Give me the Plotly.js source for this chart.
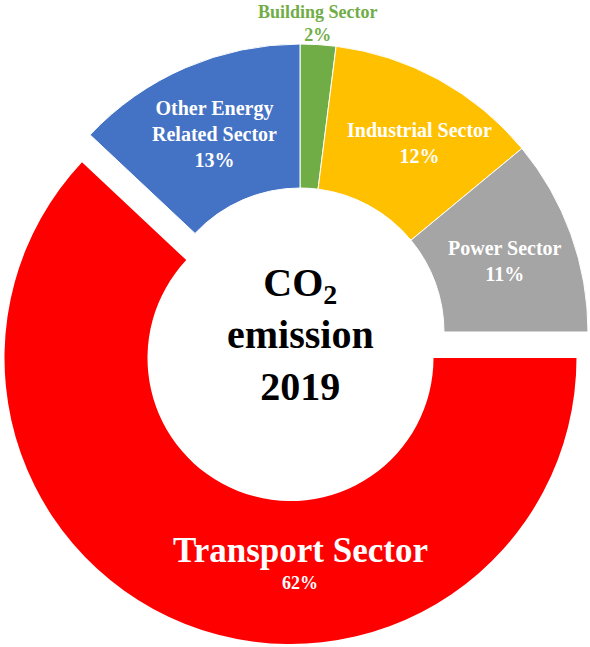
<!DOCTYPE html>
<html>
<head>
<meta charset="utf-8">
<script src="https://cdn.plot.ly/plotly-3.0.1.min.js"></script>
<style>html,body{margin:0;padding:0;background:#fff}</style>
</head>
<body>
<div id="chart" style="width:590px;height:647px"></div>
<script>
var sectors = ['Building Sector', 'Industrial Sector', 'Power Sector', 'Transport Sector', 'Other Energy Related Sector'];
var shares = [2, 12, 11, 62, 13];
var sectorColors = ['#70AD47', '#FFC000', '#A5A5A5', '#FF0000', '#4472C4'];
var sectorText = ['Building Sector', 'Industrial Sector', 'Power Sector', 'Transport Sector', 'Other Energy<br>Related Sector'];
var centerText = ['CO<sub>2</sub>', 'emission', '2019'];

var W = 590, H = 647;
var pulled = 3;  // transport slice sits apart from the rest
var clear = 'rgba(0,0,0,0)';
var serif = 'Liberation Serif, Times New Roman, serif';

function px(x) { return x / W; }
function py(y) { return 1 - y / H; }

var traces = [
  {
    type: 'pie',
    labels: sectors,
    values: shares,
    sort: false,
    direction: 'clockwise',
    rotation: 0,
    hole: 0.5,
    textinfo: 'none',
    showlegend: false,
    hovertemplate: '%{label}: %{percent}<extra></extra>',
    domain: { x: [px(12), px(588)], y: [py(620), py(44)] },
    marker: {
      colors: sectorColors.map(function (c, i) { return i === pulled ? clear : c; }),
      line: { color: '#ffffff', width: shares.map(function (v, i) { return i === pulled ? 0 : 1; }) }
    }
  },
  {
    type: 'pie',
    labels: sectors,
    values: shares,
    sort: false,
    direction: 'clockwise',
    rotation: 0,
    hole: 0.5,
    textinfo: 'none',
    showlegend: false,
    hovertemplate: '%{label}: %{percent}<extra></extra>',
    domain: { x: [px(4.5), px(576.5)], y: [py(644), py(72)] },
    marker: {
      colors: sectorColors.map(function (c, i) { return i === pulled ? c : clear; }),
      line: { width: 0 }
    }
  }
];

// where each slice label sits (px)
var labelPos = [[318, 0], [419, 143], [505, 261], [301, 550], [214, 134]];

var annotations = [];
for (var i = 0; i < sectors.length; i++) {
  if (i === pulled) continue;
  annotations.push({
    x: px(labelPos[i][0]), y: py(labelPos[i][1]), xref: 'paper', yref: 'paper',
    text: sectorText[i] + '<br>' + shares[i] + '%',
    showarrow: false, xanchor: 'center', yanchor: i === 0 ? 'top' : 'middle',
    font: { family: serif, size: i === 0 ? 18 : 20, weight: 'bold', color: i === 0 ? sectorColors[0] : '#ffffff' }
  });
}
annotations.push({
  x: px(labelPos[pulled][0]), y: py(labelPos[pulled][1]), xref: 'paper', yref: 'paper',
  text: sectorText[pulled], showarrow: false, xanchor: 'center', yanchor: 'middle',
  font: { family: serif, size: 35, weight: 'bold', color: '#ffffff' }
});
annotations.push({
  x: px(labelPos[pulled][0] - 1), y: py(labelPos[pulled][1] + 33), xref: 'paper', yref: 'paper',
  text: shares[pulled] + '%', showarrow: false, xanchor: 'center', yanchor: 'middle',
  font: { family: serif, size: 18, weight: 'bold', color: '#ffffff' }
});
annotations.push({
  x: px(301), y: py(334), xref: 'paper', yref: 'paper',
  text: centerText.join('<br>'), showarrow: false, xanchor: 'center', yanchor: 'middle',
  font: { family: serif, size: 40, weight: 'bold', color: '#000000' }
});

var layout = {
  width: W,
  height: H,
  margin: { l: 0, r: 0, t: 0, b: 0 },
  paper_bgcolor: '#ffffff',
  showlegend: false,
  annotations: annotations
};

Plotly.newPlot('chart', traces, layout, { displayModeBar: false });
</script>
</body>
</html>
